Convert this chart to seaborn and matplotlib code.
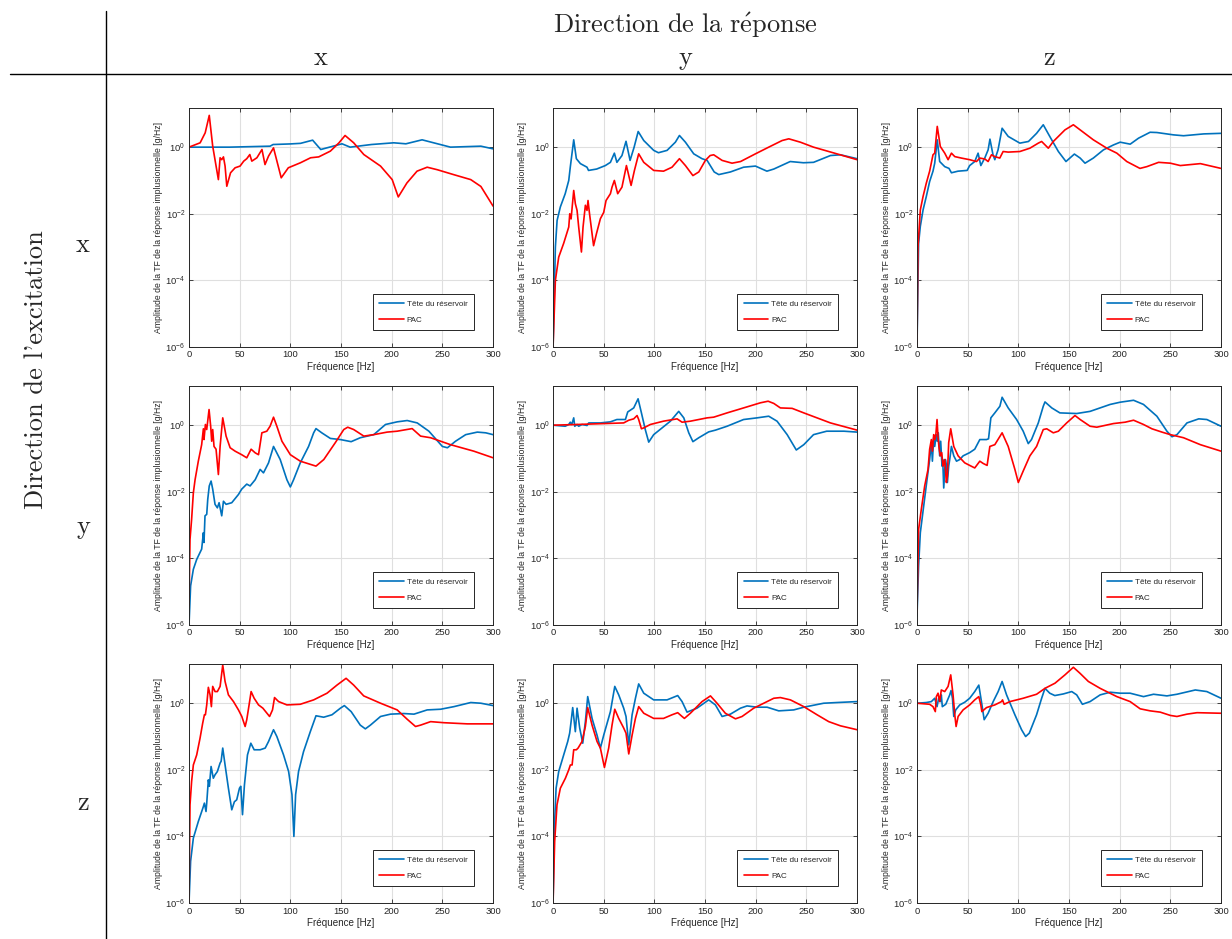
import matplotlib
matplotlib.use("Agg")
import matplotlib.pyplot as plt
from matplotlib.lines import Line2D
from matplotlib.ticker import FixedLocator, NullLocator
import seaborn as sns

# ---- data read off the picture : frequency [Hz] / amplitude [g/Hz] ----
# row = excitation direction, column = response direction

# excitation x / response x
f_xx_tete = [0, 40, 80, 83, 100, 110, 122, 130, 151, 159, 180, 202, 214, 230, 258, 288, 300]
a_xx_tete = [1.0, 1.0, 1.07, 1.2, 1.25, 1.3, 1.62, 0.85, 1.26, 1.0, 1.2, 1.35, 1.26, 1.66, 1.0, 1.07, 0.89]
f_xx_pac = [0, 11, 16, 20, 23.4, 29, 30.7, 32.3, 34, 35.6, 37.3, 41, 45.5, 50.4, 54, 57, 60, 62, 67, 72,
            75, 78.5, 83.4, 91, 98, 110, 120, 128, 139.5, 148, 154, 162.5, 172.5, 189, 200.5, 206.5, 215,
            225, 235, 245, 261, 278, 288, 300]
a_xx_pac = [1.0, 1.35, 2.7, 9.0, 1.07, 0.106, 0.48, 0.42, 0.51, 0.27, 0.067, 0.17, 0.24, 0.27, 0.38, 0.45,
            0.6, 0.38, 0.48, 0.85, 0.3, 0.54, 0.95, 0.12, 0.24, 0.34, 0.48, 0.51, 0.76, 1.35, 2.24, 1.35,
            0.6, 0.27, 0.106, 0.032, 0.084, 0.19, 0.25, 0.21, 0.15, 0.106, 0.066, 0.017]

# excitation x / response y
f_xy_tete = [0, 2.3, 4, 7.2, 12, 15.5, 17, 20.4, 23, 27, 33.5, 35, 43, 51.6, 56.6, 60.5, 63, 68, 72, 76,
             80, 84, 89.5, 99.3, 104, 112.5, 120.7, 124.7, 130.6, 138.8, 147, 152, 159, 163.5, 175, 188,
             199.7, 211, 217.8, 234, 247, 257, 273.7, 283.5, 300]
a_xy_tete = [1e-6, 1e-3, 6.3e-3, 0.016, 0.04, 0.1, 0.25, 1.66, 0.45, 0.32, 0.25, 0.2, 0.22, 0.28, 0.35,
             0.66, 0.35, 0.56, 1.5, 0.4, 1.0, 2.95, 1.58, 0.8, 0.68, 0.8, 1.41, 2.24, 1.41, 0.63, 0.45,
             0.4, 0.18, 0.15, 0.18, 0.25, 0.27, 0.19, 0.22, 0.37, 0.34, 0.35, 0.56, 0.59, 0.45]
f_xy_pac = [0, 2.3, 5.6, 10.5, 15.5, 16.5, 17.8, 20.4, 22, 23.7, 25.3, 28, 29.6, 31.9, 33.5, 34.5, 36, 40,
            42.8, 46.7, 50, 52.3, 56.6, 58.2, 60.5, 63.8, 68, 72.4, 77, 80.3, 84.5, 89.5, 99.3, 109, 117.4,
            124.7, 130.6, 138, 143.8, 150.3, 155, 158.5, 166.8, 176.6, 185, 199.7, 212.8, 226, 232.6, 244,
            257, 280, 300]
a_xy_pac = [1e-6, 1e-4, 5e-4, 1.3e-3, 4e-3, 0.01, 7e-3, 0.05, 0.02, 0.0126, 4e-3, 7.1e-4, 4e-3, 0.018,
            0.0126, 0.025, 0.01, 1.1e-3, 2.5e-3, 7.1e-3, 0.011, 0.025, 0.04, 0.063, 0.1, 0.04, 0.063, 0.28,
            0.071, 0.2, 0.63, 0.35, 0.2, 0.19, 0.25, 0.45, 0.28, 0.14, 0.18, 0.4, 0.56, 0.59, 0.4, 0.33,
            0.37, 0.63, 1.0, 1.58, 1.78, 1.41, 1.0, 0.63, 0.42]

# excitation x / response z
f_xz_tete = [0, 1.6, 3.3, 6, 9.2, 12.5, 15.8, 17.5, 20, 22.4, 27.4, 31.6, 34, 40.5, 49.5, 52, 57, 60.3, 63,
             67, 70.2, 72, 75, 76.8, 80, 84, 90, 101.5, 110, 118, 124.6, 131, 139.5, 147, 155.3, 161,
             165.8, 174, 184, 194, 200.5, 210.4, 218.6, 230, 236.7, 253, 263, 283, 300]
a_xz_tete = [1e-6, 1.3e-3, 4.2e-3, 0.013, 0.033, 0.093, 0.19, 0.33, 1.66, 0.37, 0.26, 0.23, 0.17, 0.19,
             0.2, 0.28, 0.37, 0.66, 0.28, 0.48, 0.83, 1.74, 0.59, 0.42, 0.83, 3.7, 2.1, 1.32, 1.48, 2.6,
             4.7, 2.1, 0.74, 0.37, 0.62, 0.47, 0.33, 0.47, 0.83, 1.17, 1.41, 1.23, 1.86, 2.8, 2.75, 2.34,
             2.2, 2.5, 2.6]
f_xz_pac = [0, 1, 3.3, 6, 9.2, 12.5, 15.8, 17.5, 20, 23, 27.4, 30.7, 34, 37.3, 43.8, 52, 58.7, 62, 67, 70.2,
            73.5, 76.8, 81.7, 85, 90, 101.5, 111.4, 119.7, 123, 129.6, 134.5, 146, 154.3, 161, 174, 187.3,
            197.2, 207, 220, 226.8, 238.4, 250, 259.8, 279.6, 300]
a_xz_pac = [1e-6, 1e-3, 0.013, 0.033, 0.083, 0.19, 0.59, 0.66, 4.2, 1.05, 0.66, 0.42, 0.66, 0.52, 0.47,
            0.42, 0.37, 0.47, 0.44, 0.37, 0.59, 0.52, 0.47, 0.74, 0.71, 0.74, 0.93, 1.32, 1.48, 0.93, 1.48,
            3.3, 4.7, 3.3, 1.66, 0.93, 0.66, 0.37, 0.23, 0.26, 0.35, 0.33, 0.28, 0.32, 0.23]

# excitation y / response x
f_yx_tete = [0, 1.6, 4.3, 7.6, 12.5, 14.2, 14.8, 15.8, 17.5, 18.5, 20, 21.8, 23.4, 25.7, 28, 29.7, 32.3,
             34, 36.6, 42.2, 48.8, 52, 57, 60.3, 65.3, 70.2, 73.5, 78.5, 83.4, 90, 96.6, 100, 103.2, 109.8,
             118, 123, 125.3, 131, 139.5, 149.4, 160, 169, 182.3, 193.9, 205.4, 215.3, 225.2, 236.7, 250,
             255, 263, 273, 284.5, 292.8, 300]
a_yx_tete = [1e-6, 1.5e-5, 4.7e-5, 9.3e-5, 1.9e-4, 5.9e-4, 3e-4, 1.9e-3, 2.1e-3, 5.9e-3, 0.015, 0.021,
             0.012, 4.2e-3, 3.3e-3, 4.7e-3, 1.9e-3, 5.2e-3, 4.2e-3, 4.7e-3, 8.3e-3, 0.012, 0.017, 0.015,
             0.023, 0.047, 0.037, 0.074, 0.23, 0.093, 0.023, 0.014, 0.023, 0.074, 0.23, 0.59, 0.79, 0.59,
             0.4, 0.37, 0.32, 0.42, 0.52, 1.05, 1.26, 1.38, 1.17, 0.66, 0.23, 0.21, 0.33, 0.52, 0.62, 0.59,
             0.52]
f_yx_pac = [0, 1, 2.6, 4.3, 6, 9.2, 12.5, 14.2, 14.8, 16.2, 17.5, 19.8, 21.4, 22.4, 23.4, 24.7, 26.7, 29,
            30.7, 33.3, 36.6, 40.6, 45.5, 52, 57, 61.3, 65.3, 68.6, 71.9, 76.8, 80, 83.4, 86.7, 91.7, 100,
            109.8, 125.3, 133, 144.4, 152.7, 156.6, 162.5, 172.5, 182.3, 195.5, 205.4, 220.2, 228.5, 238.4,
            258, 281, 300]
a_yx_pac = [3.7e-6, 3.7e-4, 1.5e-3, 9.3e-3, 0.023, 0.083, 0.26, 0.78, 0.37, 1.05, 0.74, 2.95, 0.93, 0.33,
            0.74, 0.23, 0.19, 0.033, 0.23, 1.66, 0.47, 0.21, 0.166, 0.13, 0.105, 0.19, 0.148, 0.13, 0.59,
            0.66, 0.93, 1.74, 0.93, 0.33, 0.13, 0.083, 0.059, 0.093, 0.3, 0.74, 0.87, 0.74, 0.47, 0.52,
            0.62, 0.66, 0.79, 0.47, 0.42, 0.26, 0.166, 0.105]

# excitation y / response y
f_yy_tete = [0, 12, 15.5, 17, 18.5, 20.4, 21.4, 23.7, 25.3, 28.6, 33.5, 35.2, 46.7, 56.6, 63, 71.4, 73.7,
             79.6, 83.9, 87.2, 91, 94.4, 99.3, 107.6, 115.8, 124, 129, 133.9, 138, 143.8, 153.6, 160.2,
             171.7, 188, 201.3, 212.8, 221, 231, 240, 247.4, 257, 270, 287, 300]
a_yy_tete = [1.0, 0.93, 1.05, 1.23, 1.05, 1.66, 0.93, 1.05, 0.93, 1.05, 0.98, 1.17, 1.17, 1.26, 1.48, 1.48,
             2.5, 3.3, 6.2, 2.34, 0.74, 0.31, 0.52, 0.83, 1.32, 2.6, 1.66, 0.59, 0.32, 0.42, 0.63, 0.71,
             0.93, 1.48, 1.66, 1.86, 1.32, 0.52, 0.18, 0.26, 0.52, 0.66, 0.66, 0.62]
f_yy_pac = [0, 23.7, 43.4, 69.7, 74.7, 79.6, 82.9, 84.5, 87.2, 89.5, 96, 109, 122.4, 127.3, 135.5, 152,
            158.5, 171.7, 188, 204.6, 212.2, 217.8, 224.3, 235.9, 247.4, 273.7, 300]
a_yy_pac = [1.0, 1.05, 1.1, 1.17, 1.41, 1.55, 1.95, 1.48, 0.78, 0.83, 1.05, 1.32, 1.55, 1.23, 1.32, 1.66,
            1.74, 2.34, 3.3, 4.7, 5.25, 4.5, 3.3, 3.2, 2.34, 1.17, 0.71]

# excitation y / response z
f_yz_tete = [0, 1.6, 3.3, 6.6, 9.9, 12.5, 14.2, 15.2, 16.5, 17.5, 19, 20, 21, 22.4, 23.4, 24.7, 25.4, 26.4,
             28, 29, 30, 31.3, 32.3, 34, 36.3, 39, 42.2, 45.5, 52, 57, 62, 68.6, 70.6, 72.9, 76.8, 81.8,
             84, 90, 98.3, 104.8, 109.8, 113, 119.7, 124.6, 126.3, 133, 141, 157.6, 170.8, 190.6, 200.5,
             213.7, 223.5, 236.7, 246.6, 251.6, 256.5, 266.4, 278, 286, 300]
a_yz_tete = [1.8e-6, 5.9e-5, 5.9e-4, 3.7e-3, 0.023, 0.093, 0.3, 0.083, 0.42, 0.23, 0.52, 0.33, 0.59, 0.12,
             0.33, 0.059, 0.093, 0.013, 0.093, 0.066, 0.019, 0.059, 0.093, 0.23, 0.12, 0.083, 0.093, 0.12,
             0.15, 0.19, 0.37, 0.37, 0.39, 1.66, 2.34, 3.7, 6.9, 3.3, 1.48, 0.66, 0.28, 0.37, 1.17, 3.7,
             5.0, 3.3, 2.34, 2.24, 2.6, 4.2, 4.9, 5.6, 4.2, 1.86, 0.66, 0.45, 0.52, 1.17, 1.55, 1.48, 0.93]
f_yz_pac = [0, 1.6, 4.3, 7.6, 10.9, 12.5, 14.2, 15.2, 16.5, 17.5, 18.5, 19.8, 20.8, 21.8, 23, 24.4, 25.7,
            27.4, 29, 30, 31.3, 33.3, 36.3, 40.6, 47.1, 52, 57, 62, 65.3, 69.2, 71.9, 76.8, 84, 90, 96.6,
            100, 104.8, 111.4, 118, 124.6, 128, 134.5, 139.5, 147.7, 155.9, 161, 170.8, 177.4, 193.9,
            205.4, 213.7, 223.5, 231.8, 241.7, 250, 263, 279.6, 300]
a_yz_pac = [2.3e-6, 7.4e-4, 3e-3, 0.015, 0.047, 0.19, 0.37, 0.166, 0.52, 0.37, 0.47, 1.48, 0.42, 0.21, 0.12,
            0.15, 0.059, 0.093, 0.019, 0.03, 0.3, 0.78, 0.23, 0.12, 0.074, 0.062, 0.052, 0.083, 0.071,
            0.062, 0.23, 0.26, 0.59, 0.23, 0.047, 0.019, 0.042, 0.12, 0.23, 0.74, 0.78, 0.59, 0.66, 1.17,
            1.95, 1.48, 0.93, 0.87, 1.12, 1.23, 1.41, 1.05, 0.78, 0.62, 0.52, 0.42, 0.26, 0.166]

# excitation z / response x
f_zx_tete = [0, 1.6, 4.3, 9.2, 14.2, 15.2, 16.8, 17.5, 19.1, 20.1, 21.8, 24, 25.7, 28, 30.7, 31.7, 33.3,
             35.6, 38.9, 42.2, 44.8, 47.1, 49.8, 51.1, 52.8, 54.7, 57.7, 61, 64.3, 70.2, 75.2, 78.5, 83.4,
             86.7, 93.3, 98.3, 101.6, 103.5, 105.2, 108.1, 113, 119.7, 125.3, 132.9, 141.1, 149.4, 153.3,
             160, 169, 174, 179, 189, 198.8, 212, 222, 235, 248.3, 261.4, 278, 288, 300]
a_zx_tete = [1e-6, 1.8e-5, 8.9e-5, 2.8e-4, 7.9e-4, 1e-3, 5.6e-4, 1e-3, 5e-3, 3.2e-3, 0.0126, 5.6e-3,
             7.1e-3, 8.9e-3, 0.016, 0.018, 0.045, 0.014, 2.8e-3, 6.3e-4, 1.1e-3, 1.26e-3, 2.8e-3, 3.2e-3,
             4.5e-4, 3.5e-3, 0.028, 0.063, 0.04, 0.04, 0.045, 0.071, 0.16, 0.1, 0.028, 8.9e-3, 1.8e-3,
             1e-4, 1.8e-3, 8.9e-3, 0.035, 0.14, 0.42, 0.38, 0.45, 0.71, 0.85, 0.56, 0.22, 0.17, 0.22, 0.4,
             0.47, 0.49, 0.47, 0.63, 0.66, 0.79, 1.05, 1.0, 0.85]
f_zx_pac = [0, 1, 2.6, 4.3, 7.6, 10.9, 13.5, 15.2, 16.2, 17.5, 19.1, 20.8, 22.1, 23.4, 25.7, 28, 30.7, 33.3,
            35.6, 38.9, 43.9, 48.8, 52.1, 55.4, 57, 59.3, 61.3, 64.3, 68.6, 72.9, 79.5, 82.4, 84.4, 88.4,
            96.6, 109.8, 123, 136.2, 146, 155, 162.5, 172.4, 189, 205.4, 215.3, 223.5, 228.5, 238.4, 251.6,
            274.6, 300]
a_zx_pac = [1e-6, 8.9e-4, 4.5e-3, 0.014, 0.028, 0.089, 0.25, 0.45, 0.45, 0.89, 3.0, 1.78, 0.79, 3.2, 2.24,
            2.24, 3.2, 14, 4.5, 1.78, 1.12, 0.63, 0.4, 0.2, 0.32, 0.89, 2.24, 1.41, 0.89, 0.71, 0.4, 0.63,
            1.48, 1.12, 0.89, 0.93, 1.26, 2.0, 3.5, 5.6, 3.5, 1.66, 1.0, 0.63, 0.33, 0.2, 0.22, 0.28, 0.26,
            0.24, 0.24]

# excitation z / response y
f_zy_tete = [0, 1.3, 3, 5.6, 10.5, 14.5, 16.4, 17.8, 19.4, 22, 23.7, 26.3, 29.3, 31.9, 34.2, 38.5, 43.4,
             46.7, 50, 56.6, 60.9, 64.8, 69.7, 72, 74.7, 78, 81.3, 84.5, 89.5, 99.3, 112.5, 123, 127.3,
             132.2, 142, 153.6, 160.2, 166.8, 175, 184.9, 191.4, 201.3, 211.2, 222.7, 237.5, 247.4, 267,
             280.3, 300]
a_zy_tete = [1e-6, 1.8e-4, 2.8e-3, 8.9e-3, 0.028, 0.071, 0.126, 0.28, 0.74, 0.14, 0.71, 0.18, 0.063, 0.28,
             1.58, 0.35, 0.11, 0.045, 0.11, 0.56, 3.2, 1.78, 0.71, 0.4, 0.056, 0.45, 1.41, 3.8, 2.0, 1.26,
             1.26, 1.7, 1.12, 0.54, 0.71, 1.26, 0.89, 0.4, 0.47, 0.71, 0.83, 0.76, 0.76, 0.59, 0.63, 0.76,
             1.0, 1.05, 1.12]
f_zy_pac = [0, 1.6, 3.9, 7.2, 12.2, 15.5, 17.1, 18.8, 20.4, 23, 24.7, 28.6, 31.9, 34.2, 38.5, 43.4, 46.7,
            50.7, 54.9, 58.2, 60.9, 64.8, 69.7, 72, 74.7, 78, 81.3, 84.5, 89.5, 99.3, 109, 117.4, 123, 127.3,
            129.6, 135.5, 147, 155.3, 161.8, 170, 180, 186.5, 198, 207.9, 217.8, 224.3, 234.2, 247.4, 260.5,
            272, 283.5, 300]
a_zy_pac = [1e-6, 7.1e-5, 8.9e-4, 2.8e-3, 5.6e-3, 0.01, 0.014, 0.014, 0.04, 0.04, 0.045, 0.071, 0.2, 0.74,
            0.22, 0.071, 0.045, 0.0118, 0.045, 0.22, 0.66, 0.35, 0.18, 0.126, 0.03, 0.11, 0.35, 0.79, 0.5,
            0.35, 0.35, 0.45, 0.52, 0.4, 0.35, 0.5, 1.12, 1.66, 1.0, 0.5, 0.34, 0.4, 0.71, 1.0, 1.41, 1.48,
            1.26, 0.79, 0.45, 0.28, 0.21, 0.16]

# excitation z / response z
f_zz_tete = [0, 9.2, 14.2, 17.5, 19.8, 21.4, 23, 24, 25, 28.4, 32.3, 33.6, 35, 36.3, 38.2, 42.2, 47.1, 52,
             57, 61, 63.6, 66.3, 70.2, 75.2, 80.1, 84, 88.4, 96.6, 103.2, 107.2, 110.8, 118, 123, 126.3,
             131, 136, 144.4, 152.7, 157.6, 163.2, 170.8, 180.7, 190.6, 200.5, 210.3, 223.5, 233.4, 246.6,
             256.5, 274.6, 286, 300]
a_zz_tete = [1.0, 1.05, 1.12, 1.41, 0.79, 1.41, 1.12, 1.78, 0.79, 0.93, 1.78, 2.4, 1.41, 0.4, 0.63, 0.89,
             1.07, 1.41, 2.24, 3.5, 1.12, 0.32, 0.5, 1.12, 2.24, 4.5, 1.78, 0.45, 0.16, 0.1, 0.126, 0.45,
             1.41, 2.8, 2.0, 1.7, 1.9, 2.24, 1.78, 0.93, 1.12, 1.78, 2.14, 2.0, 2.0, 1.58, 1.86, 1.66, 1.86,
             2.5, 2.24, 1.41]
f_zz_pac = [0, 12.5, 15.8, 18.1, 19.1, 20.8, 22.4, 24, 27.4, 30.7, 33.3, 35.6, 37.3, 38.6, 40.6, 45.5, 52,
            57, 61, 63, 64, 68.6, 76.8, 83.4, 84.4, 86, 91.7, 104.8, 118, 126.3, 136.2, 146, 154.3, 160.9,
            169.1, 180.7, 197.2, 210.3, 220.2, 230.1, 240, 250, 256.5, 266.4, 276.3, 300]
a_zz_pac = [1.0, 0.93, 0.79, 0.56, 1.58, 2.0, 1.12, 2.5, 2.24, 3.2, 7.1, 1.78, 0.45, 0.2, 0.4, 0.63, 0.89,
            1.26, 1.58, 0.89, 0.56, 0.74, 0.89, 1.12, 1.26, 0.93, 1.12, 1.41, 1.86, 2.8, 4.0, 7.1, 12, 7.9,
            4.5, 2.8, 1.58, 1.12, 0.68, 0.59, 0.54, 0.43, 0.4, 0.47, 0.52, 0.5]

directions = ["x", "y", "z"]
series_label = ["Tête du réservoir", "PAC"]
x_ticks = [0, 50, 100, 150, 200, 250, 300]
y_ticks = [1e-6, 1e-4, 1e-2, 1e0]

panels = {
    ("x", "x"): (f_xx_tete, a_xx_tete, f_xx_pac, a_xx_pac),
    ("x", "y"): (f_xy_tete, a_xy_tete, f_xy_pac, a_xy_pac),
    ("x", "z"): (f_xz_tete, a_xz_tete, f_xz_pac, a_xz_pac),
    ("y", "x"): (f_yx_tete, a_yx_tete, f_yx_pac, a_yx_pac),
    ("y", "y"): (f_yy_tete, a_yy_tete, f_yy_pac, a_yy_pac),
    ("y", "z"): (f_yz_tete, a_yz_tete, f_yz_pac, a_yz_pac),
    ("z", "x"): (f_zx_tete, a_zx_tete, f_zx_pac, a_zx_pac),
    ("z", "y"): (f_zy_tete, a_zy_tete, f_zy_pac, a_zy_pac),
    ("z", "z"): (f_zz_tete, a_zz_tete, f_zz_pac, a_zz_pac),
}

BLUE = "#0072BD"
RED = "#FF0000"
DARK = "#262626"

sns.set_style("whitegrid")
plt.rcParams["font.family"] = ["Liberation Sans", "DejaVu Sans"]
serif = ["cmr10", "DejaVu Serif"]

fig = plt.figure(figsize=(12.32, 9.39), dpi=100)

lefts = [0.1534, 0.4489, 0.7443]
bottoms = [0.6305, 0.3344, 0.0383]
width, height = 0.2468, 0.2545

for i, exc in enumerate(directions):
    for j, rep in enumerate(directions):
        ax = fig.add_axes([lefts[j], bottoms[i], width, height])
        f1, a1, f2, a2 = panels[(exc, rep)]
        sns.lineplot(x=f1, y=a1, ax=ax, color=BLUE, linewidth=1.2, estimator=None, sort=False,
                     label=series_label[0])
        sns.lineplot(x=f2, y=a2, ax=ax, color=RED, linewidth=1.2, estimator=None, sort=False,
                     label=series_label[1])
        ax.set_yscale("log")
        ax.set_xlim(0, 300)
        ax.set_ylim(1e-6, 15)
        ax.xaxis.set_major_locator(FixedLocator(x_ticks))
        ax.yaxis.set_major_locator(FixedLocator(y_ticks))
        ax.yaxis.set_minor_locator(NullLocator())
        ax.grid(True, color="#DFDFDF", linewidth=0.8)
        ax.set_axisbelow(True)
        for sp in ax.spines.values():
            sp.set_color(DARK)
            sp.set_linewidth(0.7)
        ax.tick_params(direction="in", length=3, width=0.6, color=DARK, labelsize=6.8,
                       labelcolor=DARK, top=True, right=True, bottom=True, left=True, pad=2.5)
        ax.set_xlabel("Fréquence [Hz]", fontsize=7.1, color=DARK, labelpad=2)
        ax.set_ylabel("Amplitude de la TF de la réponse implusionnelle [g/Hz]", fontsize=6.2,
                      color=DARK, labelpad=1.5)
        leg = ax.legend(loc="lower right", bbox_to_anchor=(0.9375, 0.071), borderaxespad=0,
                        fontsize=5.8, frameon=True, fancybox=False, framealpha=1, handlelength=3.0,
                        borderpad=0.8, labelspacing=1.0, handletextpad=0.4)
        leg.get_frame().set_edgecolor(DARK)
        leg.get_frame().set_linewidth(0.7)

# table-like header
fig.add_artist(Line2D([0.008, 1.0], [0.9212, 0.9212], color="black", linewidth=1.0))
fig.add_artist(Line2D([0.086, 0.086], [0.0, 0.988], color="black", linewidth=1.0))
fig.text(0.556, 0.9734, r"$\mathrm{Direction\ de\ la\ r\acute{e}ponse}$", ha="center", va="center",
         fontsize=19, math_fontfamily="cm")
for x, lab in zip([0.2606, 0.556, 0.8515], directions):
    fig.text(x, 0.938, lab, ha="center", va="center", fontsize=19, family=serif)
for y, lab in zip([0.739, 0.439, 0.1448], directions):
    fig.text(0.0674, y, lab, ha="center", va="center", fontsize=19, family=serif)
fig.text(0.0292, 0.606, "Direction de l'excitation", ha="center", va="center", rotation=90,
         fontsize=19, family=serif)

fig.savefig("out.png", dpi=100)
